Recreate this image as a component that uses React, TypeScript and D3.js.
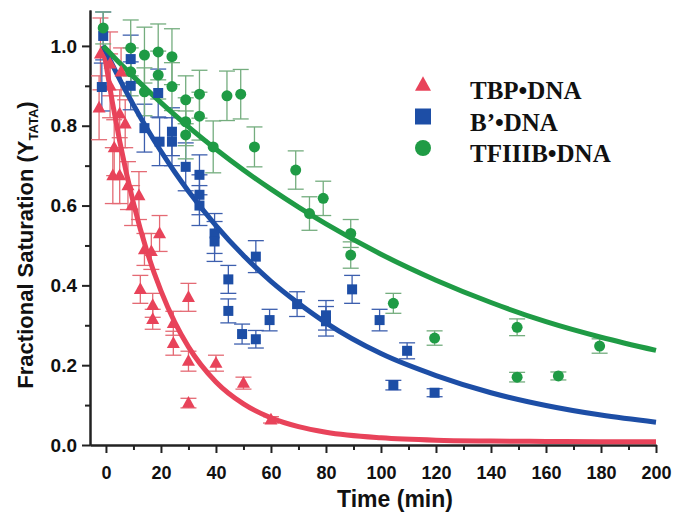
import React, { useEffect, useRef } from "react";
import * as d3 from "d3";

// TBP•DNA (red triangles)
const tbpTime = [-2, -2.5, 1.5, 1.5, 3, 5.5, 5, 2.5, 5, 7, 8, 9.5, 12, 12.5, 14, 16.5, 19.5, 17, 17, 24.5, 24.5, 30, 30, 30, 40, 50, 60];
const tbpValue = [0.98, 0.845, 0.955, 0.9, 0.745, 0.935, 0.83, 0.675, 0.675, 0.805, 0.65, 0.6, 0.625, 0.39, 0.49, 0.485, 0.53, 0.35, 0.315, 0.305, 0.255, 0.37, 0.21, 0.105, 0.205, 0.155, 0.063];
const tbpError = [0.09, 0.08, 0.08, 0.08, 0.07, 0.06, 0.06, 0.07, 0.07, 0.06, 0.06, 0.05, 0.06, 0.035, 0.04, 0.045, 0.045, 0.03, 0.025, 0.03, 0.03, 0.035, 0.025, 0.012, 0.02, 0.015, 0.008];

// B'•DNA (blue squares)
const bTime = [-1, -1.5, 9, 9, 14, 19, 19.5, 24, 24, 29, 34, 34, 34, 39.5, 39.5, 44.5, 44.5, 49.5, 54.5, 54.5, 59.5, 69.5, 80, 80, 89.5, 99.5, 104.5, 109.5, 119.5];
const bValue = [1.025, 0.897, 0.967, 0.9, 0.794, 0.882, 0.76, 0.785, 0.76, 0.697, 0.677, 0.627, 0.6, 0.53, 0.51, 0.415, 0.336, 0.278, 0.472, 0.265, 0.313, 0.353, 0.325, 0.31, 0.39, 0.313, 0.15, 0.236, 0.131];
const bError = [0.06, 0.06, 0.06, 0.06, 0.06, 0.06, 0.06, 0.06, 0.06, 0.06, 0.05, 0.05, 0.05, 0.05, 0.05, 0.035, 0.03, 0.025, 0.04, 0.022, 0.027, 0.031, 0.037, 0.037, 0.035, 0.027, 0.012, 0.02, 0.01];

// TFIIIB•DNA (green circles)
const tfTime = [-1, 9, 9, 14, 14, 19, 19, 24, 24, 29, 29, 29, 34, 34, 39, 44, 49, 54, 69, 74, 79, 89, 89, 104.5, 119.5, 149.5, 149.5, 164.5, 179.5];
const tfValue = [1.045, 0.995, 0.935, 0.977, 0.885, 0.985, 0.927, 0.973, 0.898, 0.865, 0.81, 0.777, 0.879, 0.824, 0.747, 0.875, 0.879, 0.747, 0.689, 0.58, 0.618, 0.53, 0.476, 0.355, 0.268, 0.295, 0.17, 0.173, 0.248];
const tfError = [0.04, 0.07, 0.06, 0.07, 0.06, 0.07, 0.06, 0.07, 0.06, 0.06, 0.06, 0.06, 0.06, 0.06, 0.065, 0.062, 0.062, 0.05, 0.048, 0.042, 0.043, 0.035, 0.033, 0.025, 0.018, 0.021, 0.012, 0.01, 0.018];

// fitted curves
const fitTime = [-1, 0, 5, 10, 15, 20, 25, 30, 40, 50, 60, 70, 80, 100, 120, 140, 160, 180, 200];
const tbpFit = [1.0, 0.955, 0.761, 0.606, 0.483, 0.386, 0.308, 0.246, 0.158, 0.103, 0.068, 0.046, 0.032, 0.018, 0.012, 0.01, 0.009, 0.008, 0.008];
const bFit = [1.0, 0.986, 0.916, 0.852, 0.792, 0.736, 0.684, 0.636, 0.55, 0.475, 0.41, 0.355, 0.306, 0.229, 0.174, 0.131, 0.099, 0.075, 0.057];
const tfFit = [1.0, 0.993, 0.957, 0.923, 0.89, 0.858, 0.827, 0.797, 0.741, 0.689, 0.641, 0.596, 0.554, 0.478, 0.413, 0.357, 0.309, 0.27, 0.237];

const xMajor = [0, 20, 40, 60, 80, 100, 120, 140, 160, 180, 200];
const xMinor = [10, 30, 50, 70, 90, 110, 130, 150, 170, 190];
const yMajor = [0, 0.2, 0.4, 0.6, 0.8, 1.0];
const yMinor = [0.1, 0.3, 0.5, 0.7, 0.9];

const legendLabels = ["TBP•DNA", "B’•DNA", "TFIIIB•DNA"];

const RED = "#e8435a";
const BLUE = "#1d4ea6";
const GREEN = "#1f9b45";

const App = () => {
  const svgRef = useRef(null);

  useEffect(() => {
    const svg = d3.select(svgRef.current);
    svg.selectAll("*").remove();

    const x = d3.scaleLinear().domain([-5.8, 200]).range([90, 656]);
    const y = d3.scaleLinear().domain([0, 1.09]).range([445, 10]);

    const font = "'Liberation Sans', Arial, sans-serif";

    // axes
    const yAx = svg.append("g").attr("transform", "translate(90,0)")
      .call(d3.axisLeft(y).tickValues(yMajor).tickFormat(d3.format(".1f")).tickSize(8).tickSizeOuter(0).tickPadding(5));
    svg.append("g").attr("transform", "translate(90,0)")
      .call(d3.axisLeft(y).tickValues(yMinor).tickFormat(() => "").tickSize(5).tickSizeOuter(0));
    const xAx = svg.append("g").attr("transform", "translate(0,445)")
      .call(d3.axisBottom(x).tickValues(xMajor).tickSize(8).tickSizeOuter(0).tickPadding(13));
    svg.append("g").attr("transform", "translate(0,445)")
      .call(d3.axisBottom(x).tickValues(xMinor).tickFormat(() => "").tickSize(5).tickSizeOuter(0));

    svg.selectAll(".domain").attr("stroke", "#222").attr("stroke-width", 2);
    svg.selectAll(".tick line").attr("stroke", "#222").attr("stroke-width", 2);
    yAx.selectAll("text").attr("font-family", font).attr("font-weight", "bold")
      .attr("font-size", 19).attr("fill", "#111");
    xAx.selectAll("text").attr("font-family", font).attr("font-weight", "bold")
      .attr("font-size", 18).attr("fill", "#111");

    // axis titles
    svg.append("text")
      .attr("x", 395).attr("y", 507)
      .attr("text-anchor", "middle")
      .attr("font-family", font).attr("font-weight", "bold").attr("font-size", 23)
      .attr("fill", "#111")
      .text("Time (min)");

    const yt = svg.append("text")
      .attr("transform", "translate(33,245) rotate(-90)")
      .attr("text-anchor", "middle")
      .attr("font-family", font).attr("font-weight", "bold").attr("font-size", 22)
      .attr("fill", "#111");
    yt.append("tspan").text("Fractional Saturation (Y");
    yt.append("tspan").attr("font-size", 13).attr("dy", 5).text("TATA");
    yt.append("tspan").attr("dy", -5).text(")");

    const series = [
      { t: tbpTime, v: tbpValue, e: tbpError, color: RED, bar: "#e46a74", shape: "tri" },
      { t: bTime, v: bValue, e: bError, color: BLUE, bar: "#3d5fae", shape: "sq" },
      { t: tfTime, v: tfValue, e: tfError, color: GREEN, bar: "#74ad7e", shape: "circ" },
    ];

    // error bars
    series.forEach((s) => {
      const g = svg.append("g").attr("stroke", s.bar).attr("stroke-width", 1.3).attr("fill", "none");
      s.t.forEach((t, i) => {
        const cx = x(t);
        const y0 = y(s.v[i] - s.e[i]);
        const y1 = y(s.v[i] + s.e[i]);
        g.append("line").attr("x1", cx).attr("x2", cx).attr("y1", y0).attr("y2", y1);
        g.append("line").attr("x1", cx - 8).attr("x2", cx + 8).attr("y1", y0).attr("y2", y0);
        g.append("line").attr("x1", cx - 8).attr("x2", cx + 8).attr("y1", y1).attr("y2", y1);
      });
    });

    // markers
    const drawMarker = (g, shape, cx, cy, size, color) => {
      if (shape === "tri") {
        const h = size * 0.9;
        g.append("path")
          .attr("d", `M${cx},${cy - h * 0.6}L${cx + size / 2},${cy + h * 0.4}L${cx - size / 2},${cy + h * 0.4}Z`)
          .attr("fill", color);
      } else if (shape === "sq") {
        g.append("rect").attr("x", cx - size / 2).attr("y", cy - size / 2)
          .attr("width", size).attr("height", size).attr("fill", color);
      } else {
        g.append("circle").attr("cx", cx).attr("cy", cy).attr("r", size / 2).attr("fill", color);
      }
    };

    // fit curves
    const fits = [
      { f: tbpFit, color: RED },
      { f: bFit, color: BLUE },
      { f: tfFit, color: GREEN },
    ];
    fits.forEach((c) => {
      const line = d3.line().x((d, i) => x(fitTime[i])).y((d) => y(d)).curve(d3.curveMonotoneX);
      svg.append("path").datum(c.f).attr("d", line)
        .attr("fill", "none").attr("stroke", c.color).attr("stroke-width", 5)
        .attr("stroke-linecap", "butt");
    });

    const sizes = { tri: 13, sq: 10, circ: 11 };
    series.forEach((s) => {
      const g = svg.append("g");
      s.t.forEach((t, i) => drawMarker(g, s.shape, x(t), y(s.v[i]), sizes[s.shape], s.color));
    });

    // legend
    const lg = svg.append("g");
    series.forEach((s, i) => {
      const cy = 85 + i * 31.5;
      drawMarker(lg, s.shape, 423, cy, 16, s.color);
      lg.append("text")
        .attr("x", 470).attr("y", cy + 14)
        .attr("font-family", "'Liberation Serif', 'Times New Roman', serif")
        .attr("font-weight", "bold").attr("font-size", 25).attr("fill", "#111")
        .text(legendLabels[i]);
    });
  }, []);

  return (
    <svg
      ref={svgRef}
      width={673}
      height={515}
      style={{ position: "absolute", left: 0, top: 0, background: "#fff" }}
    ></svg>
  );
};

export default App;
